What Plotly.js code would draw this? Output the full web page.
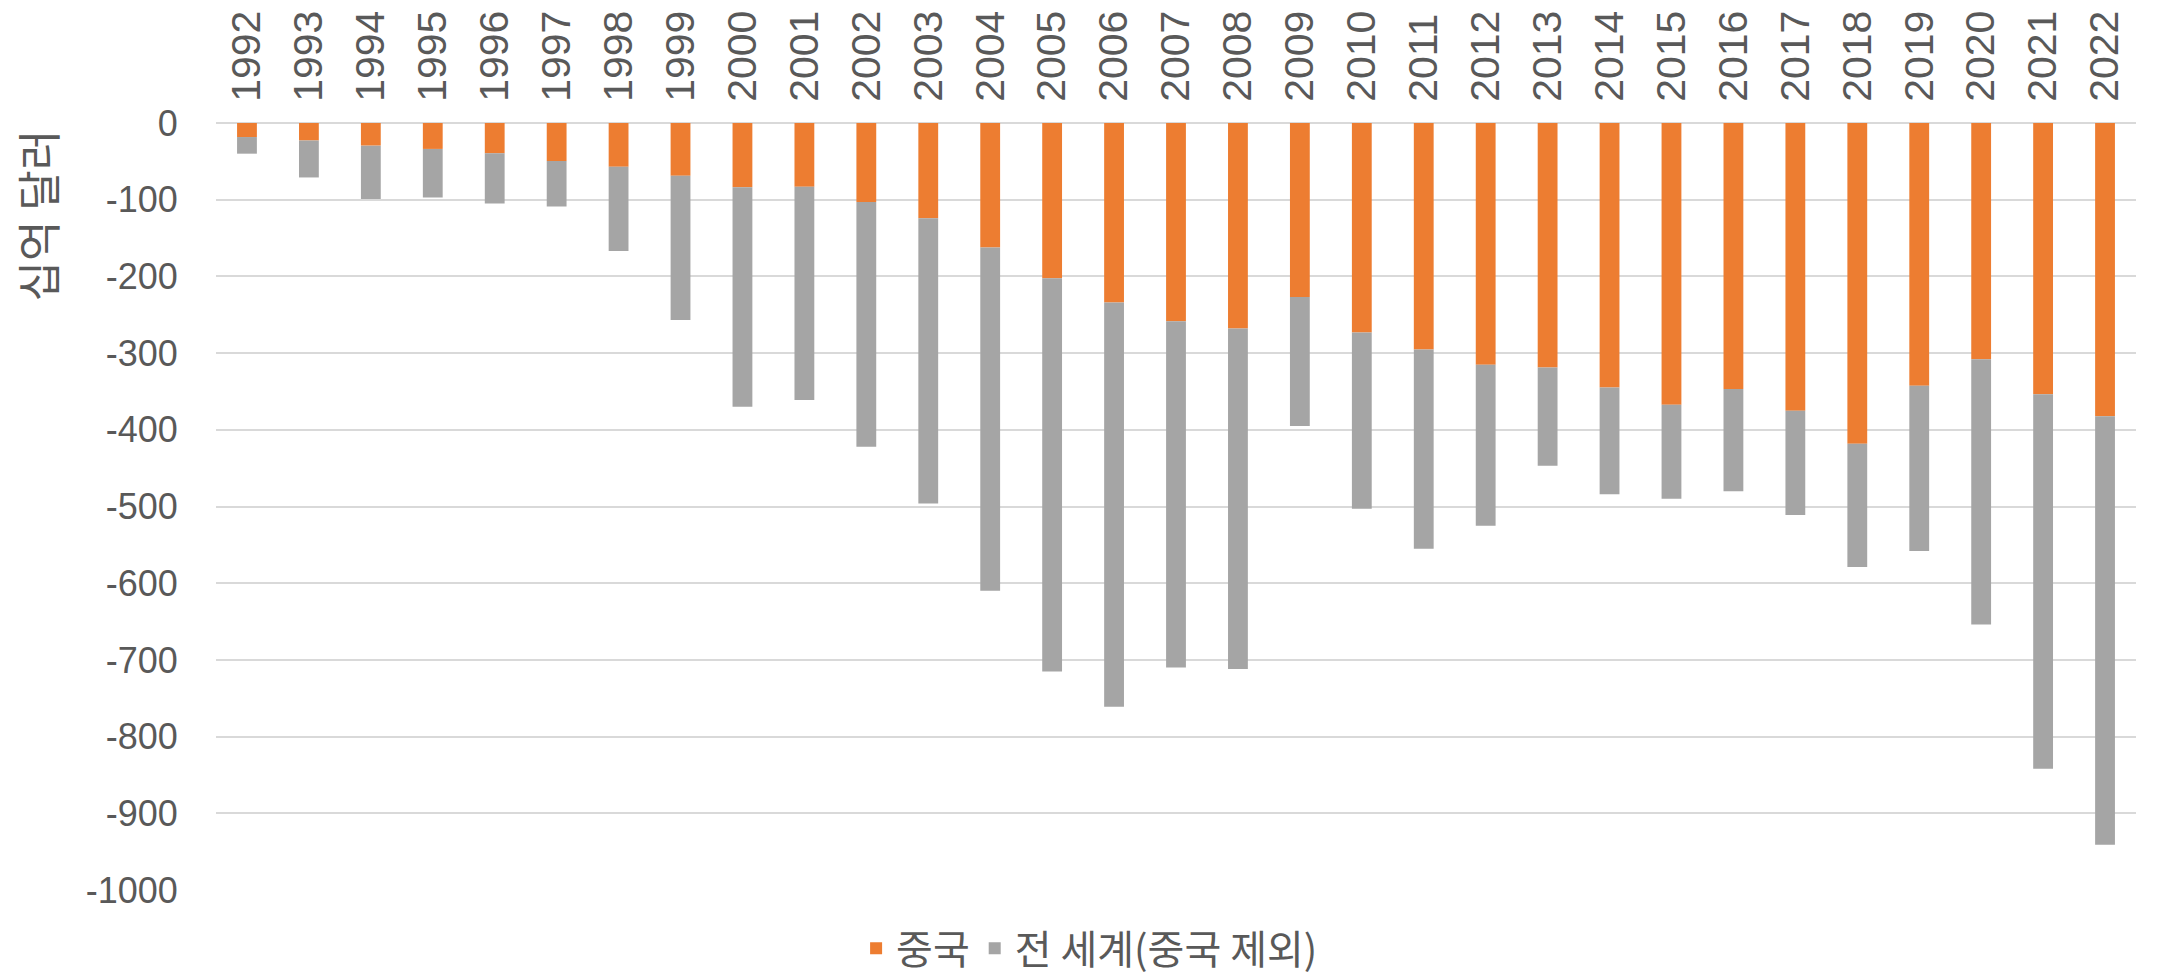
<!DOCTYPE html>
<html>
<head>
<meta charset="utf-8">
<script src="https://cdn.plot.ly/plotly-3.0.1.min.js"></script>
<style>
  html, body { margin: 0; padding: 0; background: #fff; }
  #plotArea { width: 2167px; height: 977px; }
</style>
</head>
<body>
<div id="plotArea"></div>
<script>
// years on the x axis
var years = ["1992", "1993", "1994", "1995", "1996", "1997", "1998", "1999", "2000", "2001",
             "2002", "2003", "2004", "2005", "2006", "2007", "2008", "2009", "2010", "2011",
             "2012", "2013", "2014", "2015", "2016", "2017", "2018", "2019", "2020", "2021", "2022"];

// trade balance with China (billion $)
var china = [-18.3, -22.8, -29.5, -33.8, -39.5, -49.7, -56.9, -68.7, -83.8, -83.1,
             -103.1, -124.1, -162.3, -202.3, -234.1, -258.5, -268.0, -226.9, -273.0, -295.3,
             -315.1, -318.7, -344.8, -367.3, -346.8, -375.2, -418.2, -342.6, -308.0, -353.5, -382.3];

// trade balance with the rest of the world (billion $)
var restOfWorld = [-21.7, -48.2, -69.5, -63.2, -65.5, -59.3, -110.1, -188.3, -286.2, -277.9,
                   -318.9, -371.9, -447.7, -512.7, -526.9, -451.5, -444.0, -168.1, -230.0, -259.7,
                   -209.9, -128.3, -139.2, -122.7, -133.2, -135.8, -160.8, -215.4, -346.0, -488.5, -558.7];

var yTicks = [0, -100, -200, -300, -400, -500, -600, -700, -800, -900, -1000];

var fontFam = "Liberation Sans, Noto Sans CJK KR, sans-serif";
var txtColor = "#595959";

var trace1 = {
    x: years,
    y: china,
    name: "중국",
    type: "bar",
    marker: {color: "#ED7D31"}
};

var trace2 = {
    x: years,
    y: restOfWorld,
    name: "전 세계(중국 제외)",
    type: "bar",
    marker: {color: "#A5A5A5"}
};

var layout = {
    width: 2167,
    height: 977,
    barmode: "relative",
    bargap: 0.68,
    paper_bgcolor: "#fff",
    plot_bgcolor: "#fff",
    margin: {l: 216, r: 31, t: 123, b: 87, autoexpand: false},
    font: {family: fontFam, color: txtColor, size: 36},
    showlegend: true,
    legend: {
        orientation: "h",
        x: 0.455,
        xanchor: "center",
        y: -0.076,
        yanchor: "middle",
        font: {size: 40, color: txtColor, family: "Noto Sans CJK KR, sans-serif"},
        itemwidth: 30,
        traceorder: "normal"
    },
    xaxis: {
        side: "top",
        type: "category",
        tickangle: -90,
        tickfont: {size: 41, color: txtColor},
        showgrid: false,
        showline: false,
        zeroline: false,
        ticks: "outside",
        ticklen: 12,
        tickcolor: "rgba(0,0,0,0)"
    },
    yaxis: {
        range: [-1000, 0],
        tickvals: yTicks,
        ticktext: yTicks.map(String),
        tickfont: {size: 36, color: txtColor},
        showgrid: true,
        gridcolor: "#D9D9D9",
        gridwidth: 2,
        zeroline: true,
        zerolinecolor: "#D9D9D9",
        zerolinewidth: 2,
        showline: false,
        ticks: "outside",
        ticklen: 30,
        tickcolor: "rgba(0,0,0,0)"
    },
    annotations: [{
        text: "십억 달러",
        xref: "paper",
        yref: "paper",
        x: -0.093,
        y: 0.88,
        xanchor: "center",
        yanchor: "middle",
        textangle: -90,
        showarrow: false,
        font: {size: 44, color: txtColor, family: "Noto Sans CJK KR, sans-serif"}
    }]
};

Plotly.newPlot("plotArea", [trace1, trace2], layout, {displayModeBar: false, staticPlot: true});
</script>
</body>
</html>
